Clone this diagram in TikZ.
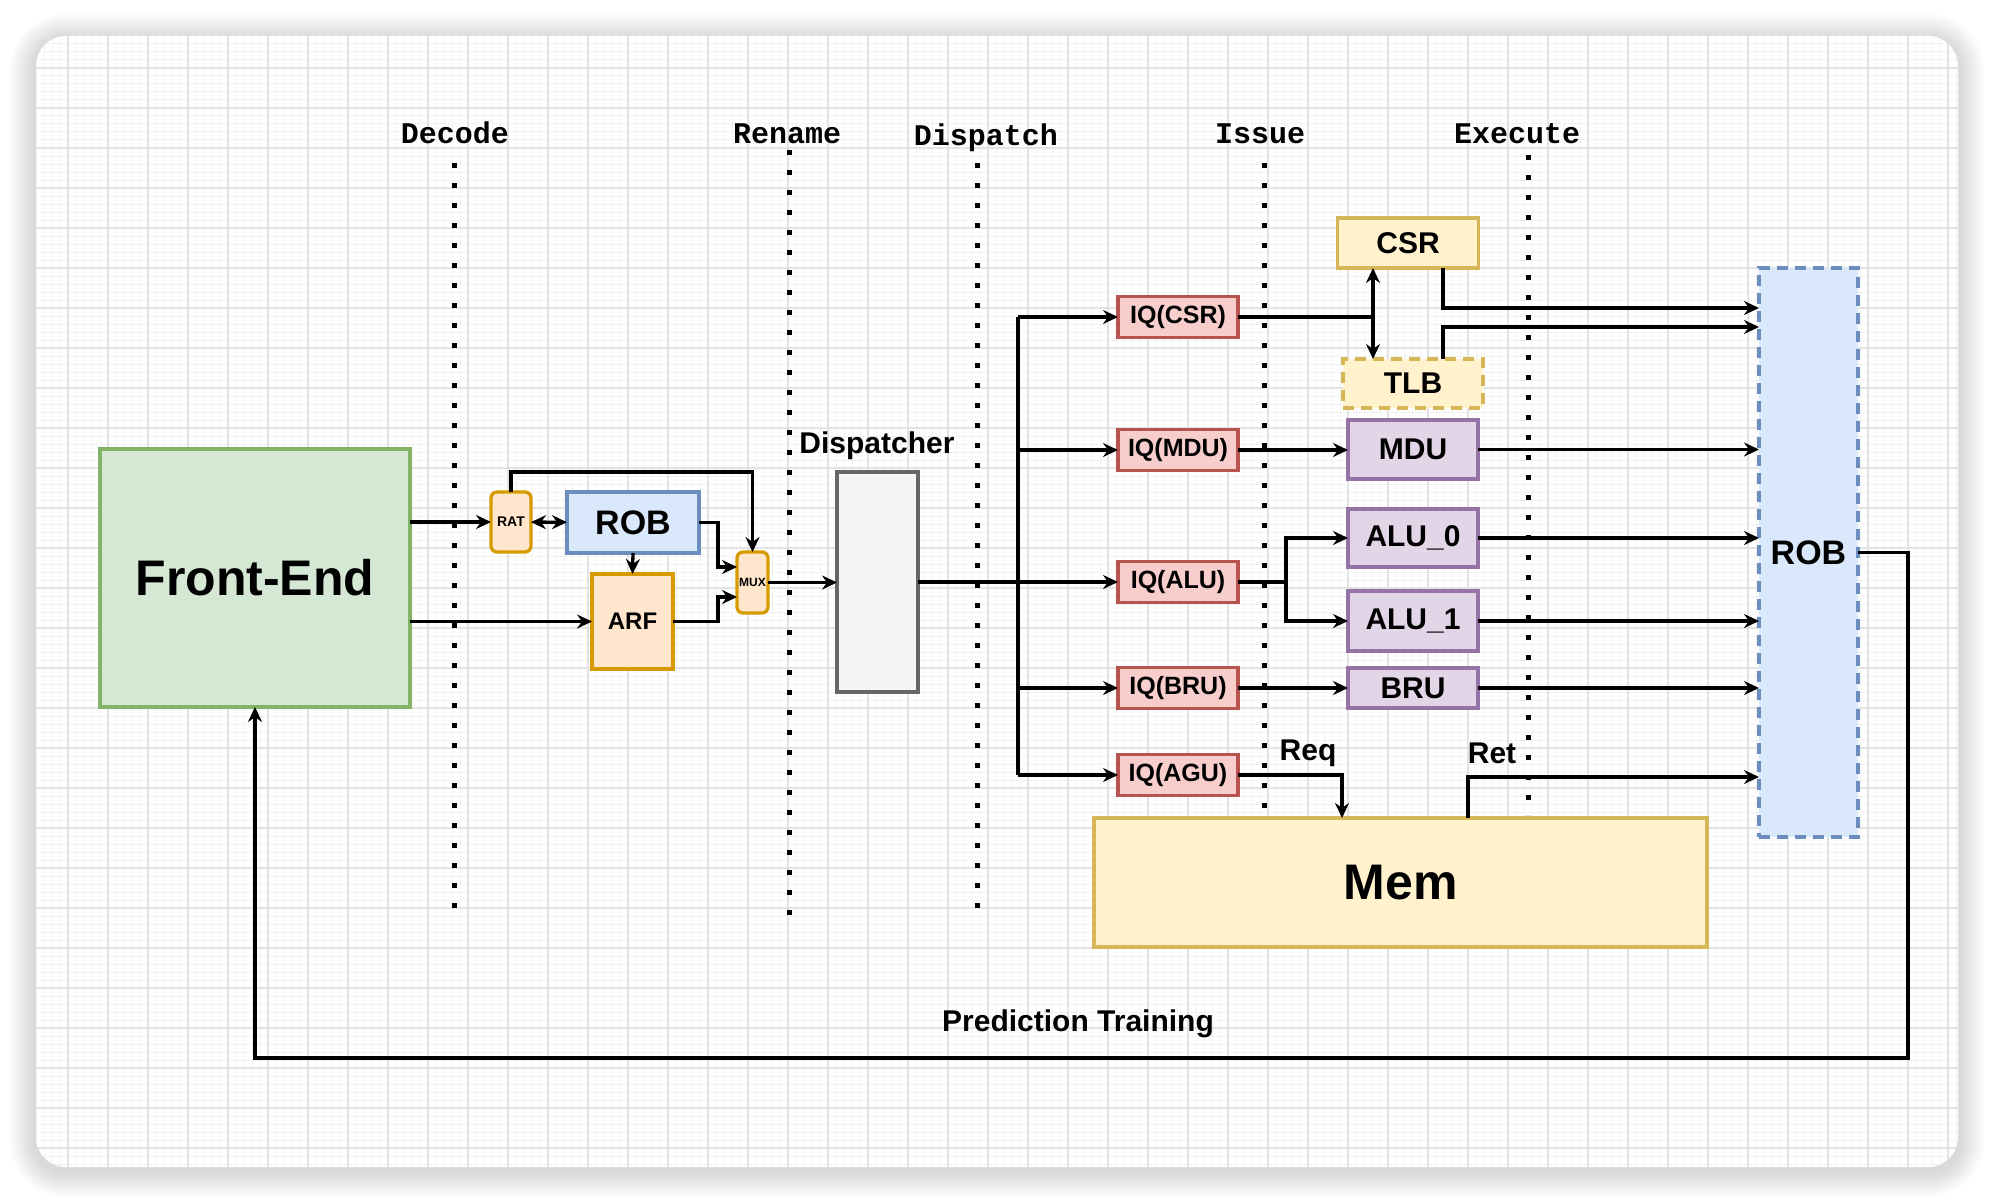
\documentclass[tikz,border=0pt]{standalone}
\usepackage{fontspec}
\setmainfont{Liberation Sans}
\newfontfamily\stagefont{Liberation Mono}
\usepackage{xcolor}
\usepackage{tikz}
\usetikzlibrary{arrows.meta, positioning, calc}

\definecolor{feFill}{HTML}{D5E8D4}
\definecolor{feLine}{HTML}{82B366}
\definecolor{orFill}{HTML}{FFE6CC}
\definecolor{orLine}{HTML}{D79B00}
\definecolor{blFill}{HTML}{DAE8FC}
\definecolor{blLine}{HTML}{6C8EBF}
\definecolor{grFill}{HTML}{F5F5F5}
\definecolor{grLine}{HTML}{666666}
\definecolor{rdFill}{HTML}{F8CECC}
\definecolor{rdLine}{HTML}{B85450}
\definecolor{ylFill}{HTML}{FFF2CC}
\definecolor{ylLine}{HTML}{D6B656}
\definecolor{puFill}{HTML}{E1D5E7}
\definecolor{puLine}{HTML}{9673A6}
\definecolor{gridMinor}{HTML}{F2F2F2}
\definecolor{gridMajor}{HTML}{E3E3E3}

\begin{document}
\begin{tikzpicture}[x=1pt, y=-1pt,
    box/.style={draw, line width=3.3pt, inner sep=0pt, outer sep=0pt, align=center,
      font=\bfseries\fontsize{30}{36}\selectfont},
    fe box/.style={box, fill=feFill, draw=feLine},
    or box/.style={box, fill=orFill, draw=orLine},
    bl box/.style={box, fill=blFill, draw=blLine},
    gr box/.style={box, fill=grFill, draw=grLine},
    iq box/.style={box, fill=rdFill, draw=rdLine, minimum width=120pt, minimum height=41pt,
      font=\bfseries\fontsize{25}{30}\selectfont},
    yl box/.style={box, fill=ylFill, draw=ylLine},
    fu box/.style={box, fill=puFill, draw=puLine, minimum width=130pt},
    wire/.style={line width=3.3pt},
    arr/.style={wire, -{Stealth[length=15pt, width=14pt, inset=5pt]}},
    arr2/.style={wire, {Stealth[length=15pt, width=14pt, inset=5pt]}-{Stealth[length=15pt, width=14pt, inset=5pt]}},
    sep/.style={line width=5pt, dash pattern=on 5pt off 15pt},
    stage/.style={anchor=base, font=\stagefont\bfseries\fontsize{30}{36}\selectfont},
    tag/.style={font=\bfseries\fontsize{30}{36}\selectfont}]

  \useasboundingbox (0,0) rectangle (1994,1204);

  % card with soft shadow and grid
  \foreach \i [evaluate=\i as \d using 2.6*\i, evaluate=\i as \r using 30+2.6*\i] in {1,...,10}
    \fill[black, opacity=0.015, rounded corners=\r pt] (36-\d,40-\d) rectangle (1958+\d,1171+\d);
  \fill[white, rounded corners=30pt] (36,36) rectangle (1958,1167);
  \begin{scope}
    \clip[rounded corners=30pt] (36,36) rectangle (1958,1167);
    \foreach \x in {36,44,...,1956} \draw[gridMinor, line width=1pt] (\x,36) -- (\x,1167);
    \foreach \y in {36,44,...,1164} \draw[gridMinor, line width=1pt] (36,\y) -- (1958,\y);
    \foreach \x in {68,108,...,1948} \draw[gridMajor, line width=1.8pt] (\x,36) -- (\x,1167);
    \foreach \y in {68,108,...,1148} \draw[gridMajor, line width=1.8pt] (36,\y) -- (1958,\y);
  \end{scope}

  % stages
  \node[stage] (decode) at (455,143) {Decode};
  \node[stage] (rename) at (787,143) {Rename};
  \node[stage] (dispatch) at (986,146) {Dispatch};
  \node[stage] (issue) at (1260,143) {Issue};
  \node[stage] (execute) at (1517,143) {Execute};
  \draw[sep] (454,163) -- (454,910);
  \draw[sep] (789,150) -- (789,916);
  \draw[sep] (977,163) -- (977,910);
  \draw[sep] (1264,163) -- (1264,812);
  \draw[sep] (1528,155) -- (1528,815);

  % front end and rename
  \node[fe box, minimum width=310pt, minimum height=258pt, font=\bfseries\fontsize{50}{60}\selectfont] (fe) at (255,578) {Front-End};
  \node[or box, rounded corners=6pt, minimum width=40pt, minimum height=60pt, font=\bfseries\fontsize{14}{16}\selectfont] (rat) at (511,522) {RAT};
  \node[bl box, minimum width=132pt, minimum height=61pt, font=\bfseries\fontsize{34}{40}\selectfont] (rob) at (633,522.5) {ROB};
  \node[or box, minimum width=81pt, minimum height=95pt, font=\bfseries\fontsize{24}{28}\selectfont] (arf) at (632.5,621.5) {ARF};
  \node[or box, rounded corners=6pt, minimum width=31pt, minimum height=61pt, font=\bfseries\fontsize{12}{14}\selectfont] (mux) at (752.5,582.5) {MUX};

  % dispatch
  \node[gr box, minimum width=81pt, minimum height=220pt] (disp) at (877.5,582) {};
  \node[tag] (displbl) at (877,446) {Dispatcher};

  % issue queues
  \node[iq box] (iqcsr) at (1178,317) {IQ(CSR)};
  \node[iq box] (iqmdu) at (1178,450) {IQ(MDU)};
  \node[iq box] (iqalu) at (1178,582) {IQ(ALU)};
  \node[iq box] (iqbru) at (1178,688) {IQ(BRU)};
  \node[iq box] (iqagu) at (1178,775) {IQ(AGU)};

  % execute units
  \node[yl box, minimum width=141pt, minimum height=50pt] (csr) at (1408,243) {CSR};
  \node[yl box, dashed, dash pattern=on 11pt off 7pt, minimum width=140pt, minimum height=49pt] (tlb) at (1413,383.5) {TLB};
  \node[fu box, minimum height=59pt] (mdu) at (1413,449.5) {MDU};
  \node[fu box, minimum height=58pt] (alu0) at (1413,538) {ALU\_0};
  \node[fu box, minimum height=60pt] (alu1) at (1413,621) {ALU\_1};
  \node[fu box, minimum height=40pt] (bru) at (1413,688) {BRU};
  \node[yl box, minimum width=613pt, minimum height=129pt, font=\bfseries\fontsize{50}{60}\selectfont] (mem) at (1400.5,882.5) {Mem};
  \node[bl box, dashed, dash pattern=on 11pt off 7pt, minimum width=99pt, minimum height=569pt, font=\bfseries\fontsize{34}{40}\selectfont] (robb) at (1808.5,552.5) {ROB};

  \node[tag] (req) at (1308,753) {Req};
  \node[tag] (ret) at (1492,753) {Ret};
  \node[tag] (train) at (1078,1024) {Prediction Training};

  % helper points
  \coordinate (trunk) at (1018,0);
  \coordinate (csrtap) at (1373,0);
  \coordinate (csrout) at (1443,0);
  \coordinate (fbk) at (1908,1058);

  % rename stage wiring
  \draw[arr] (fe.east |- rat) -- (rat);
  \draw[arr] (fe.east |- arf) -- (arf);
  \draw[arr2] (rat) -- (rob);
  \draw[arr] (rob.south) -- (arf.north);
  \draw[arr] (rat.north) -- ++(0,-20) -| (mux.north);
  \draw[arr] (rob.east) -- ++(19,0) |- ($(mux.west)+(0,-15.5)$);
  \draw[arr] (arf.east) -- ++(45,0) |- ($(mux.west)+(0,14.5)$);
  \draw[arr] (mux.east) -- (mux.east -| disp.west);

  % dispatch to issue queues
  \draw[arr] (disp.east |- iqalu) -- (iqalu);
  \draw[wire] (trunk |- iqcsr) -- (trunk |- iqagu);
  \foreach \q in {iqcsr, iqmdu, iqbru, iqagu}
    \draw[arr] (trunk |- \q) -- (\q);

  % issue to units
  \draw[wire] (iqcsr.east) -- (iqcsr.east -| csrtap);
  \draw[arr2] (csr.south -| csrtap) -- (tlb.north -| csrtap);
  \draw[arr] (iqmdu.east) -- (iqmdu.east -| mdu.west);
  \draw[arr] (iqalu.east) -- ++(48,0) |- (alu0);
  \draw[arr] (iqalu.east) -- ++(48,0) |- (alu1);
  \draw[arr] (iqbru) -- (bru);
  \draw[arr] (iqagu.east) -| (mem.north -| 1342,0);

  % writeback
  \draw[arr] (csr.south -| csrout) |- (robb.west |- 0,308);
  \draw[arr] (tlb.north -| csrout) |- (robb.west |- 0,327);
  \draw[arr] (mdu.east) -- (mdu.east -| robb.west);
  \draw[arr] (alu0.east) -- (alu0.east -| robb.west);
  \draw[arr] (alu1.east) -- (alu1.east -| robb.west);
  \draw[arr] (bru.east) -- (bru.east -| robb.west);
  \draw[arr] (mem.north -| 1468,0) |- (robb.west |- 0,777);

  % commit feedback
  \draw[arr] (robb.east) -| (fbk) -| (fe.south);
\end{tikzpicture}
\end{document}
